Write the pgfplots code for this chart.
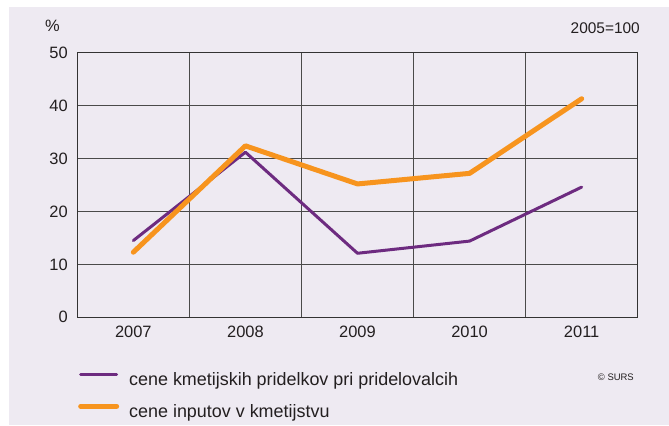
\documentclass[border=0pt]{standalone}
\usepackage{fontspec}
\setmainfont{Liberation Sans}
\usepackage{pgfplots}
\pgfplotsset{compat=1.18}
\definecolor{bgc}{HTML}{EEEAF2}
\definecolor{purp}{HTML}{6D2B80}
\definecolor{orng}{HTML}{F7941E}
\definecolor{gridc}{HTML}{4A4A4A}
\definecolor{txt}{HTML}{231F20}
\begin{document}
\begin{tikzpicture}
\path (0bp,0bp) rectangle (669bp,426bp);
\fill[bgc] (8.5bp,1bp) rectangle (669bp,419bp);
\begin{axis}[
  at={(77.3bp,108.7bp)}, anchor=south west,
  width=560.4bp, height=264.6bp, scale only axis,
  xmin=-0.5, xmax=4.5, ymin=0, ymax=50,
  xtick={0,1,2,3,4}, xticklabels={2007,2008,2009,2010,2011},
  minor xtick={0.5,1.5,2.5,3.5},
  ytick={0,10,20,30,40,50},
  major tick length=0pt, minor tick length=0pt,
  ymajorgrids=true, xminorgrids=true,
  grid style={gridc, line width=1bp},
  minor grid style={gridc, line width=1bp},
  axis line style={draw=black!80, line width=1.3bp},
  tick label style={font=\fontsize{16.5}{19}\selectfont, text=txt},
  /pgf/number format/assume math mode=true,
  yticklabel style={xshift=-6bp},
  xticklabel style={yshift=-5bp},
  legend cell align=left,
  legend image code/.code={\draw[#1] (0bp,5.5bp) -- (36bp,5.5bp);},
  legend style={at={(0.0012,-0.207)}, anchor=north west, draw=none, fill=none,
    inner sep=0pt, font=\fontsize{18}{21}\selectfont, text=txt, row sep=17bp,
    nodes={inner sep=0pt},
    /tikz/every odd column/.append style={column sep=10bp}},
]
\addplot[purp, line width=3bp, line join=round, line cap=round] coordinates {
  (0,14.5) (1,31.2) (2,12.1) (3,14.4) (4,24.6)};
\addlegendentry{cene kmetijskih pridelkov pri pridelovalcih}
\addplot[orng, line width=5bp, line join=round, line cap=round] coordinates {
  (0,12.3) (1,32.4) (2,25.2) (3,27.2) (4,41.3)};
\addlegendentry{cene inputov v kmetijstvu}
\end{axis}
\node[anchor=west, text=txt, font=\fontsize{16.5}{19}\selectfont, inner sep=0pt] at (45bp,400bp) {\%};
\node[anchor=east, text=txt, font=\fontsize{15.5}{18}\selectfont, inner sep=0pt] at (640bp,398bp) {2005=100};
\node[anchor=east, text=txt, font=\fontsize{9.5}{11}\selectfont, inner sep=0pt] at (634bp,48.3bp) {© SURS};
\end{tikzpicture}
\end{document}
